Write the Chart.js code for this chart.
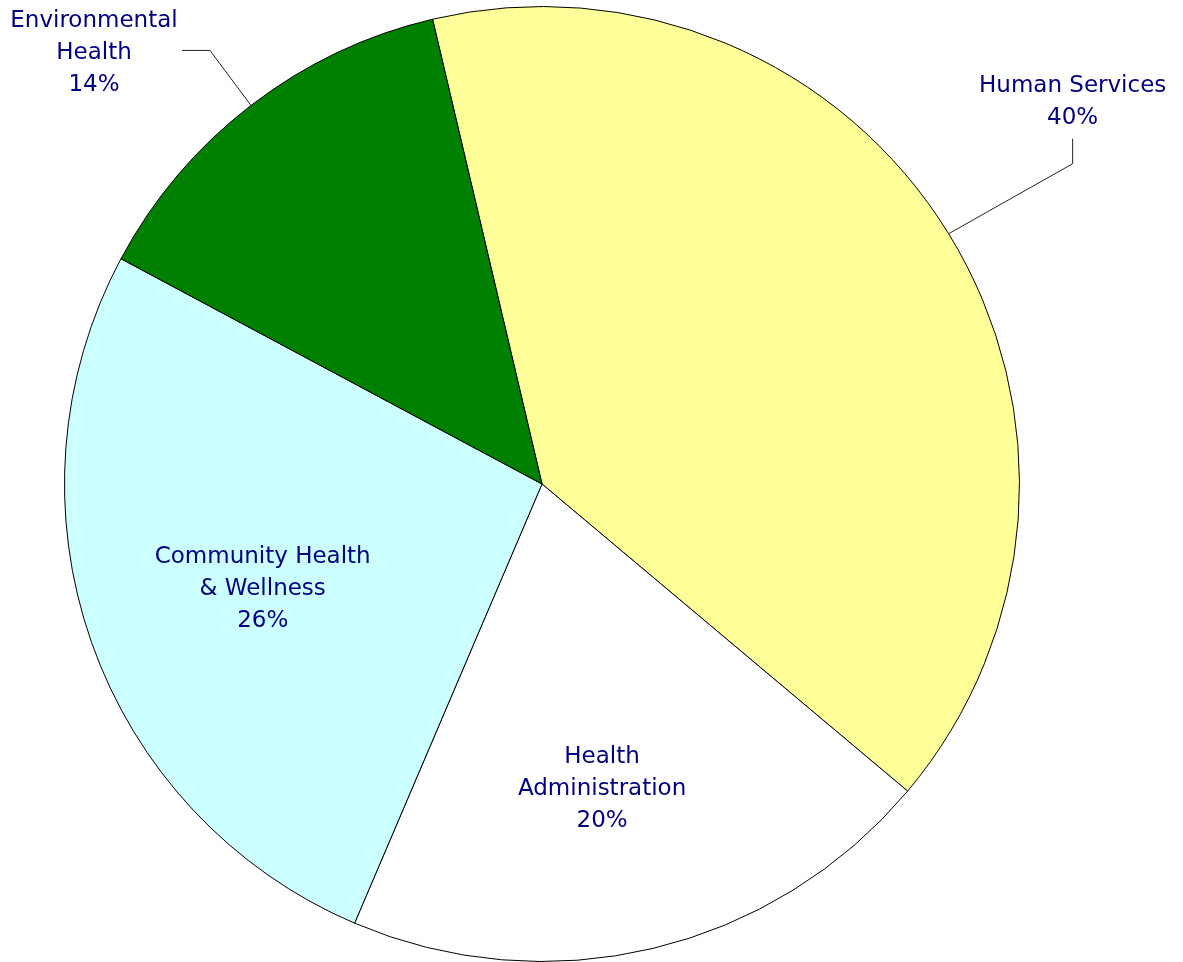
<!DOCTYPE html>
<html>
<head>
<meta charset="utf-8">
<title>Pie chart</title>
<script src="https://cdn.jsdelivr.net/npm/chart.js@4/dist/chart.umd.min.js"></script>
<style>
  html, body { margin: 0; padding: 0; background: #ffffff; }
  #wrap { width: 1183px; height: 962px; position: relative; }
</style>
</head>
<body>
<div id="wrap"><canvas id="pieCanvas" width="1183" height="962"></canvas></div>
<script>
// data, clockwise from the top
var categories = ['Human Services', 'Health Administration', 'Community Health & Wellness', 'Environmental Health'];
var shares = [39.8, 20.3, 26.4, 13.5];
var percentLabels = ['40%', '20%', '26%', '14%'];
var labelLines = [
    ['Human Services'],
    ['Health', 'Administration'],
    ['Community Health', '& Wellness'],
    ['Environmental', 'Health']
];
var sliceColors = ['#ffff99', '#ffffff', '#ccffff', '#008000'];

// where each label sits: inside at a fraction of the radius, or outside with a leader line
var labelPlace = [
    { outside: true, elbow: [124, -70], tail: [0, -25], text: [0, -24], align: 'up' },
    { outside: false, frac: 0.65, nudge: [-12, 0] },
    { outside: false, frac: 0.62, nudge: [0, 4] },
    { outside: true, elbow: [-41, -55], tail: [-28, 0], text: [-88, 0], align: 'middle' }
];

var textColor = '#000080';
var fontSpec = '23px "DejaVu Sans"';
var lineGap = 32;
var textDrop = 3; // visual centring of the glyphs

var sliceLabels = {
    id: 'sliceLabels',
    afterDatasetsDraw: function(chart) {
        var ctx = chart.ctx;
        var arcs = chart.getDatasetMeta(0).data;
        ctx.save();
        ctx.font = fontSpec;
        ctx.textAlign = 'center';
        ctx.textBaseline = 'middle';
        arcs.forEach(function(arc, i) {
            var p = arc.getProps(['x', 'y', 'startAngle', 'endAngle', 'outerRadius'], true);
            var mid = (p.startAngle + p.endAngle) / 2;
            var lines = labelLines[i].concat([percentLabels[i]]);
            var place = labelPlace[i];
            var cx, cy;
            if (place.outside) {
                var ex = p.x + Math.cos(mid) * p.outerRadius;
                var ey = p.y + Math.sin(mid) * p.outerRadius;
                var bx = ex + place.elbow[0], by = ey + place.elbow[1];
                var tx = bx + place.tail[0], ty = by + place.tail[1];
                ctx.strokeStyle = '#222222';
                ctx.lineWidth = 1;
                ctx.beginPath();
                ctx.moveTo(ex, ey);
                ctx.lineTo(bx, by);
                ctx.lineTo(tx, ty);
                ctx.stroke();
                cx = tx + place.text[0];
                if (place.align === 'up') {
                    cy = ty + place.text[1] - (lines.length - 1) * lineGap / 2;
                } else {
                    cy = ty + place.text[1];
                }
            } else {
                cx = p.x + Math.cos(mid) * p.outerRadius * place.frac + place.nudge[0];
                cy = p.y + Math.sin(mid) * p.outerRadius * place.frac + place.nudge[1];
            }
            ctx.fillStyle = textColor;
            var top = cy - (lines.length - 1) * lineGap / 2 + textDrop;
            lines.forEach(function(t, k) {
                ctx.fillText(t, cx, top + k * lineGap);
            });
        });
        ctx.restore();
    }
};

var pieChart = new Chart(document.getElementById('pieCanvas'), {
    type: 'pie',
    data: {
        labels: categories,
        datasets: [{
            data: shares,
            backgroundColor: sliceColors,
            borderColor: '#000000',
            borderWidth: 1
        }]
    },
    options: {
        responsive: false,
        animation: false,
        rotation: -13.25,
        layout: { padding: { left: 64, right: 163, top: 6, bottom: 0 } },
        plugins: {
            legend: { display: false },
            tooltip: { enabled: false }
        }
    },
    plugins: [sliceLabels]
});
</script>
</body>
</html>
